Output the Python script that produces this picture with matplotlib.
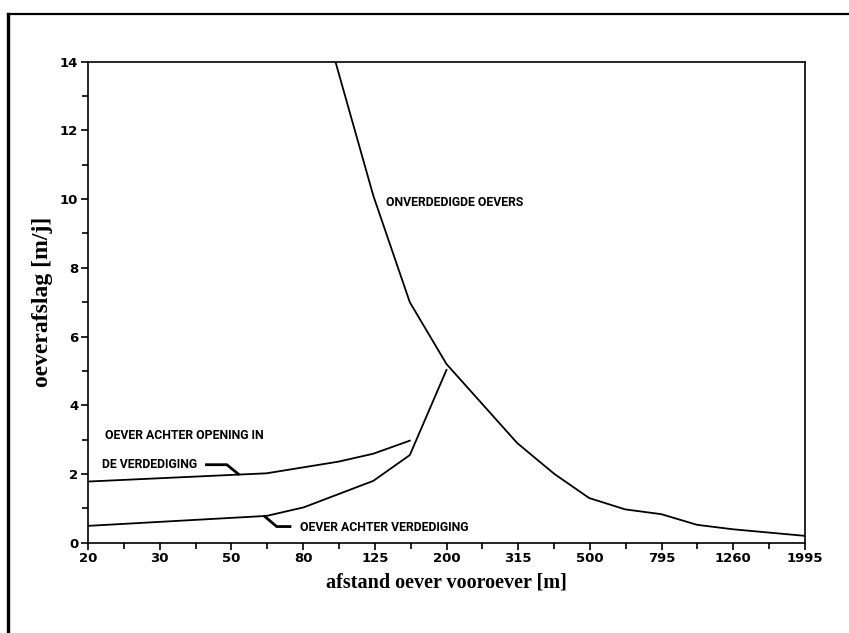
import numpy as np
import matplotlib
matplotlib.use("Agg")
import matplotlib.pyplot as plt
from matplotlib.lines import Line2D

# ---- data ----
tick_labels = ["20", "30", "50", "80", "125", "200", "315", "500", "795", "1260", "1995"]

dist_onverdedigd = [98, 125, 158, 200, 315, 400, 500, 630, 795, 1000, 1260, 1995]
val_onverdedigd = [14.0, 10.1, 7.0, 5.2, 2.9, 2.0, 1.3, 0.97, 0.83, 0.52, 0.39, 0.2]

dist_opening = [20, 63, 100, 125, 158]
val_opening = [1.78, 2.02, 2.36, 2.59, 2.97]

dist_verdedigd = [20, 63, 80, 125, 158, 200]
val_verdedigd = [0.49, 0.78, 1.03, 1.80, 2.55, 5.03]

# ---- figure ----
fig = plt.figure(figsize=(8.49, 6.33), dpi=100)
ax = fig.add_axes([88/849, 1-542.7/633, (805-88)/849, (542.7-61.7)/633])

lw = 1.3
ax.plot(dist_onverdedigd, val_onverdedigd, color="black", lw=lw, clip_on=True)
ax.plot(dist_opening, val_opening, color="black", lw=lw)
ax.plot(dist_verdedigd, val_verdedigd, color="black", lw=lw)

ax.set_xscale("log")
major = [20 * 10 ** (0.2 * k) for k in range(len(tick_labels))]
minor = [20 * 10 ** (0.2 * k + 0.1) for k in range(len(tick_labels) - 1)]
ax.set_xlim(major[0], major[-1])
ax.set_ylim(0, 14)
ax.set_xticks(major)
ax.set_xticklabels(tick_labels)
ax.set_xticks(minor, minor=True)
ax.xaxis.set_minor_formatter(matplotlib.ticker.NullFormatter())
ax.set_yticks(np.arange(0, 15, 2))
ax.set_yticks(np.arange(1, 14, 2), minor=True)

for sp in ax.spines.values():
    sp.set_linewidth(1.2)
ax.tick_params(which="both", direction="out", width=1.2, color="black")
ax.tick_params(which="major", length=5, labelsize=9.5, pad=2)
ax.tick_params(which="minor", length=4.5)
for lab in ax.get_xticklabels() + ax.get_yticklabels():
    lab.set_fontweight("bold")
    lab.set_family("DejaVu Sans")

ax.set_xlabel("afstand oever vooroever [m]", fontsize=14.5, fontweight="bold",
              family="Liberation Serif", labelpad=5)
ax.set_ylabel("oeverafslag [m/j]", fontsize=17, fontweight="bold",
              family="Liberation Serif", labelpad=5)

# ---- annotations ----
tfont = dict(fontsize=8.8, fontweight="bold", family="Roboto",
             va="center", ha="left")
ax.text(22.3, 3.11, "OEVER ACHTER OPENING IN", **tfont)
ax.text(21.9, 2.27, "DE VERDEDIGING", **tfont)
ax.text(78.1, 0.44, "OEVER ACHTER VERDEDIGING", **tfont)
ax.text(136.0, 9.9, "ONVERDEDIGDE OEVERS", **tfont)

leader1_x, leader1_y = [42.8, 48.8, 52.5], [2.27, 2.27, 2.0]
leader2_x, leader2_y = [62.3, 67.2, 73.2], [0.76, 0.47, 0.47]
ax.plot(leader1_x, leader1_y, color="black", lw=2.0)
ax.plot(leader2_x, leader2_y, color="black", lw=2.0)

# ---- page frame ----
fig.add_artist(Line2D([7.5/849, 1.0], [1-13.5/633, 1-13.5/633], color="black", lw=1.6,
                      transform=fig.transFigure))
fig.add_artist(Line2D([7.5/849, 7.5/849], [0, 1-13.5/633], color="black", lw=2.4,
                      transform=fig.transFigure))

fig.savefig("out.png", dpi=100)
